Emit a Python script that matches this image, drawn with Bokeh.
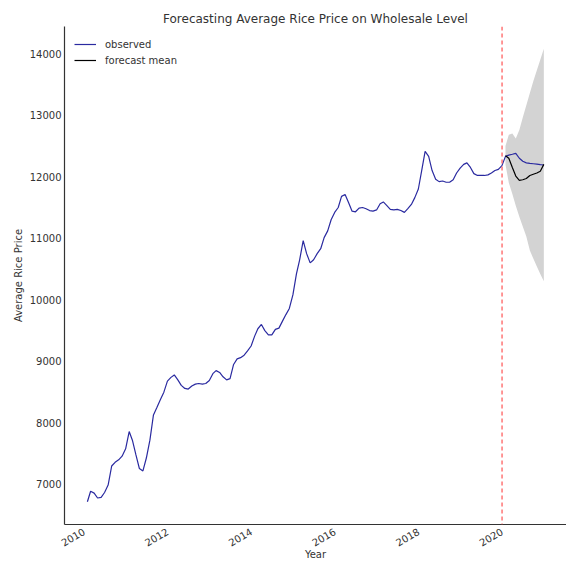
import math
import pandas as pd
from bokeh.plotting import figure
from bokeh.models import Range1d, FixedTicker, DatetimeTickFormatter, Span, Legend, LegendItem
from bokeh.embed import file_html
from bokeh.resources import INLINE

# Monthly observed average wholesale rice price (Jan..Dec each year, month-end dates)
obs_2010 = [6720, 6890, 6860, 6780, 6790, 6870, 6990, 7300, 7360, 7400, 7460, 7580]
obs_2011 = [7860, 7720, 7480, 7260, 7220, 7430, 7720, 8130, 8250, 8380, 8500, 8680]
obs_2012 = [8740, 8780, 8700, 8610, 8560, 8550, 8600, 8630, 8640, 8630, 8640, 8690]
obs_2013 = [8800, 8850, 8820, 8750, 8700, 8720, 8950, 9040, 9060, 9100, 9170, 9250]
obs_2014 = [9410, 9530, 9600, 9500, 9430, 9430, 9520, 9540, 9650, 9760, 9860, 10080]
obs_2015 = [10420, 10650, 10960, 10750, 10600, 10650, 10750, 10830, 11010, 11120, 11300, 11420]
obs_2016 = [11500, 11680, 11710, 11580, 11440, 11430, 11490, 11500, 11480, 11450, 11440, 11460]
obs_2017 = [11560, 11590, 11530, 11470, 11460, 11470, 11450, 11420, 11480, 11550, 11660, 11800]
obs_2018 = [12120, 12410, 12330, 12100, 11960, 11920, 11930, 11910, 11910, 11950, 12060, 12140]
obs_2019 = [12200, 12225, 12150, 12050, 12020, 12020, 12020, 12030, 12060, 12100, 12120, 12180]
obs_2020 = [12330, 12350, 12365, 12380, 12300, 12250, 12225, 12215, 12210, 12205, 12195, 12190]

# Forecast for 2020 (Jan..Dec)
fc_mean = [12340, 12300, 12150, 12010, 11940, 11950, 11970, 12020, 12040, 12060, 12090, 12200]
fc_lower = [12200, 11900, 11720, 11530, 11350, 11190, 11030, 10800, 10670, 10540, 10420, 10300]
fc_upper = [12500, 12680, 12700, 12620, 12760, 12960, 13160, 13360, 13550, 13730, 13900, 14080]

year_ticks = [2010, 2012, 2014, 2016, 2018, 2020]
y_ticks = [7000, 8000, 9000, 10000, 11000, 12000, 13000, 14000]

observed = (obs_2010 + obs_2011 + obs_2012 + obs_2013 + obs_2014 + obs_2015 +
            obs_2016 + obs_2017 + obs_2018 + obs_2019 + obs_2020)
obs_dates = pd.date_range("2010-01-31", periods=len(observed), freq=pd.offsets.MonthEnd())
fc_dates = pd.date_range("2020-01-31", periods=len(fc_mean), freq=pd.offsets.MonthEnd())

TEXT = "#333333"
FONT = "DejaVu Sans"

p = figure(width=566, height=563, x_axis_type="datetime",
           output_backend="svg", toolbar_location=None,
           x_range=Range1d(pd.Timestamp("2009-07-15"), pd.Timestamp("2021-07-17")),
           y_range=Range1d(6350, 14440),
           min_border_left=64, min_border_right=0, min_border_top=26, min_border_bottom=0)

p.title.text = "Forecasting Average Rice Price on Wholesale Level"
p.title.align = "center"
p.title.text_font = FONT
p.title.text_font_size = "12px"
p.title.text_font_style = "normal"
p.title.text_color = TEXT
p.title.standoff = 2

p.outline_line_color = None
p.xgrid.grid_line_color = None
p.ygrid.grid_line_color = None

r_fill = p.varea(x=fc_dates, y1=fc_lower, y2=fc_upper, fill_color="#d3d3d3")
r_obs = p.line(obs_dates, observed, line_color="#2a2aa0", line_width=1.2)
r_fc = p.line(fc_dates, fc_mean, line_color="black", line_width=1.2)

split = Span(location=pd.Timestamp("2020-01-01").value / 1e6, dimension="height",
             line_color="#ff6060", line_dash="4 3", line_width=1.3)
p.add_layout(split)

xa = p.xaxis[0]
xa.ticker = FixedTicker(ticks=[pd.Timestamp(f"{y}-01-01").value / 1e6 for y in year_ticks])
xa.formatter = DatetimeTickFormatter(years="%Y", months="%Y", days="%Y", hours="%Y",
                                     minutes="%Y", seconds="%Y", milliseconds="%Y",
                                     microseconds="%Y", hourmin="%Y", minsec="%Y")
xa.major_label_orientation = math.pi / 6
xa.axis_label = "Year"

ya = p.yaxis[0]
ya.ticker = FixedTicker(ticks=y_ticks)
ya.axis_label = "Average Rice Price"

for ax in (xa, ya):
    ax.axis_line_color = TEXT
    ax.axis_line_width = 1.2
    ax.major_tick_line_color = None
    ax.minor_tick_line_color = None
    ax.major_tick_out = 0
    ax.major_tick_in = 0
    ax.minor_tick_out = 0
    ax.major_label_text_font = FONT
    ax.major_label_text_font_size = "10px"
    ax.major_label_text_color = TEXT
    ax.axis_label_text_font = FONT
    ax.axis_label_text_font_size = "10px"
    ax.axis_label_text_font_style = "normal"
    ax.axis_label_text_color = TEXT

ya.major_label_standoff = 3
ya.axis_label_standoff = 3
xa.major_label_standoff = 6
xa.axis_label_standoff = -4

legend = Legend(items=[LegendItem(label="observed", renderers=[r_obs]),
                       LegendItem(label="forecast mean", renderers=[r_fc])],
                location="top_left", margin=10, padding=0, spacing=0,
                label_height=16, glyph_height=16, glyph_width=22, label_standoff=9,
                border_line_color=None, background_fill_alpha=0,
                label_text_font=FONT, label_text_font_size="10px", label_text_color=TEXT)
p.add_layout(legend)

open("out.html", "w").write(file_html(p, INLINE))
